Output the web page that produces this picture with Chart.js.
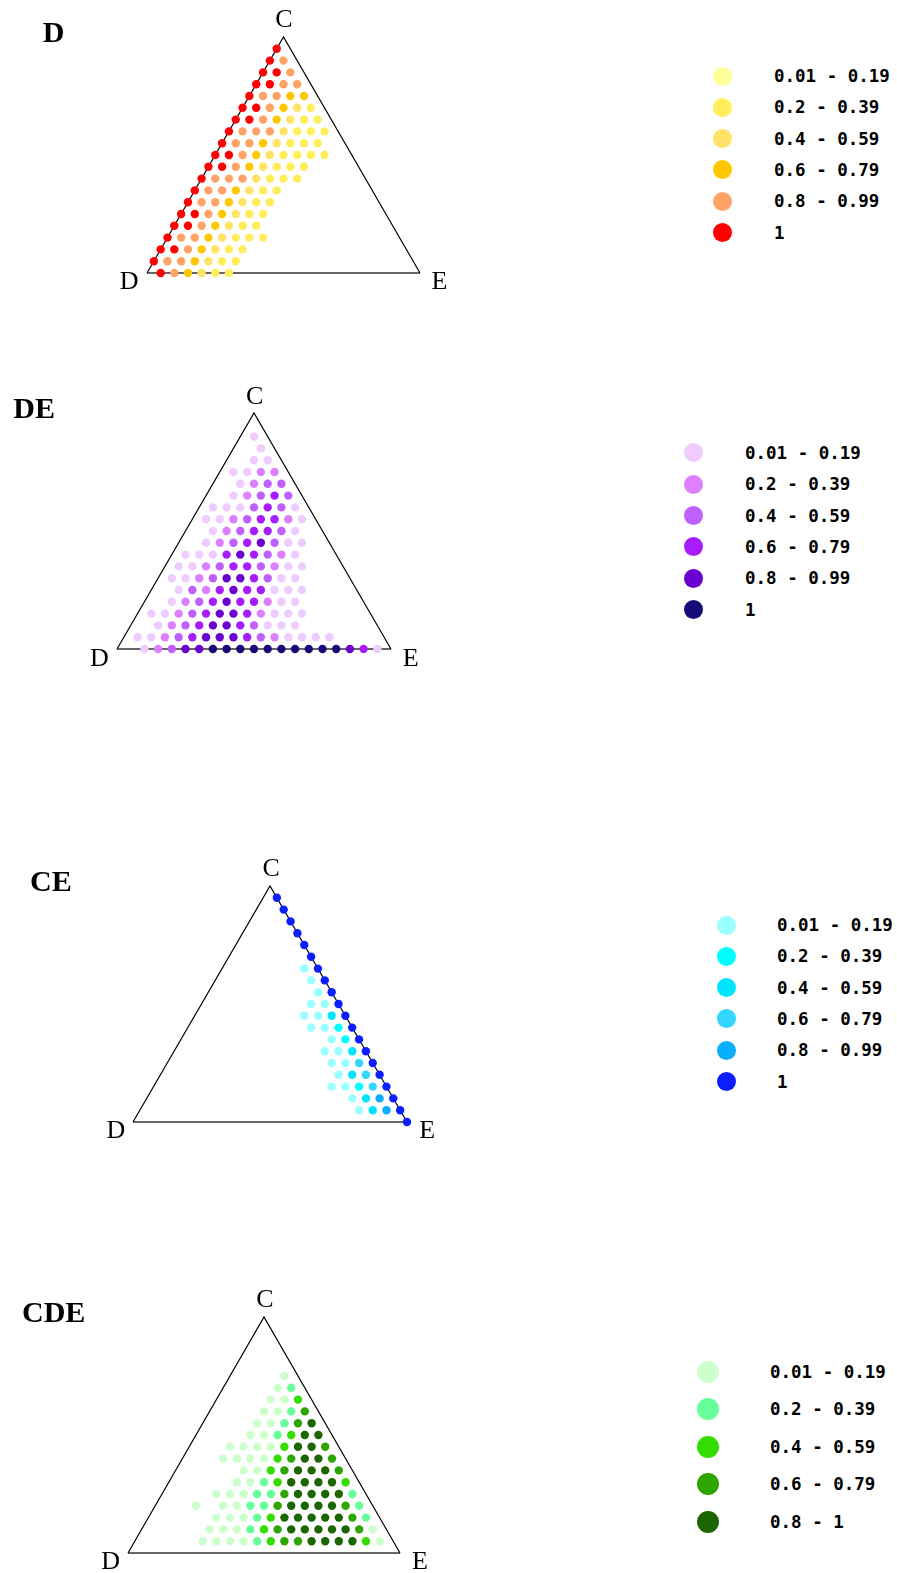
<!DOCTYPE html>
<html>
<head>
<meta charset="utf-8">
<script src="https://cdn.jsdelivr.net/npm/chart.js@4.4.1/dist/chart.umd.min.js"></script>
<style>
  body { margin: 0; background: #fff; }
  #page { position: relative; width: 897px; height: 1573px; overflow: hidden; background: #fff; }
  canvas { position: absolute; }
  .title { position: absolute; font: bold 30px "Liberation Serif", "Times New Roman", serif; line-height: 30px; color: #000; white-space: nowrap; }
  .vlabel { position: absolute; font: 26px "Liberation Serif", "Times New Roman", serif; line-height: 26px; color: #000; white-space: nowrap; }
  .mark { position: absolute; border-radius: 50%; }
  .ltext { position: absolute; font: bold 17.5px "DejaVu Sans Mono", monospace; line-height: 17px; color: #000; white-space: pre; transform: translateY(-50%); }
</style>
</head>
<body>
<div id="page"></div>
<script>
// grid has 20 steps per side; rows listed top (row 19) to bottom (row 0)
// each char is one grid column from the left edge: "." = no dot, digit = class
const N = 20;

const labels6 = ["0.01 - 0.19", "0.2 - 0.39", "0.4 - 0.59", "0.6 - 0.79", "0.8 - 0.99", "1"];
const labels5 = ["0.01 - 0.19", "0.2 - 0.39", "0.4 - 0.59", "0.6 - 0.79", "0.8 - 1"];

const dColors = ["#FFFF99", "#FFEE5A", "#FFE366", "#FFC800", "#FFA366", "#FF0000"];
const deColors = ["#EECCFF", "#DD80FF", "#BF5FFF", "#A61CFF", "#6A00D0", "#170A78"];
const ceColors = ["#99FFFF", "#00FFFF", "#00E5FF", "#33D6FF", "#0AAEFF", "#0A1EFF"];
const cdeColors = ["#CCFFCC", "#66FF99", "#33DD00", "#2EA500", "#1C6600"];

const dRows = [
  "6.",
  "65.",
  "665.",
  "6655.",
  "65544.",
  "665432.",
  "6654322.",
  "65553222.",
  "65543222..",
  "665432222..",
  "66543222....",
  "65553222.....",
  "6554322.......",
  "6554322........",
  "6654322.........",
  "6654322..........",
  "65543222..........",
  "6654322............",
  "6554322.............",
  ".654322.............."
];

const deRows = [
  "..",
  ".1.",
  "..1.",
  "..11.",
  ".1122.",
  "..1233.",
  "..12343.",
  ".1113431.",
  ".11234421.",
  "..1234431..",
  "..12345311..",
  ".111454321...",
  ".1123443211...",
  ".1123554311....",
  "..1324544111....",
  "..1234544211.....",
  ".112345542111.....",
  "..12345543111......",
  ".112345554321111....",
  "..123556666666666541."
];

const ceRows = [
  ".6",
  "..6",
  "...6",
  "....6",
  ".....6",
  "......6",
  "......16",
  ".......16",
  "........16",
  "........116",
  "........1136",
  ".........1126",
  "...........126",
  "...........1136",
  "............1146",
  ".............1346",
  ".............11246",
  "...............1356",
  "................1356",
  "....................6"
];

const cdeRows = [
  "..",
  "...",
  "....",
  ".....",
  "....1.",
  "....12.",
  "....113.",
  "....1124.",
  "....11245.",
  "....112355.",
  "...11113554.",
  "...111134554.",
  ".....11345554.",
  ".....112355553.",
  "....11122455552.",
  "...1.11224555542.",
  ".....111235555542.",
  ".....1112345555541.",
  ".....11112344555531.",
  "....................."
];

const panels = [
  { title: "D", rows: dRows, colors: dColors, labels: labels6,
    box: { x: 146.5, y: 37, w: 273, h: 236 }, titleAt: [42.7, 42.3],
    legend: { cx: 722.5, cy: 76, step: 31.3, tx: 774, size: 19 } },
  { title: "DE", rows: deRows, colors: deColors, labels: labels6,
    box: { x: 116.7, y: 413.3, w: 274, h: 236 }, titleAt: [13.3, 418.3],
    legend: { cx: 693.7, cy: 452.7, step: 31.4, tx: 745, size: 19 } },
  { title: "CE", rows: ceRows, colors: ceColors, labels: labels6,
    box: { x: 133.2, y: 885.7, w: 273.5, h: 236 }, titleAt: [30, 891],
    legend: { cx: 726, cy: 925, step: 31.3, tx: 777, size: 19 } },
  { title: "CDE", rows: cdeRows, colors: cdeColors, labels: labels5,
    box: { x: 128, y: 1317, w: 272, h: 236 }, titleAt: [22, 1322],
    legend: { cx: 708, cy: 1371.7, step: 37.5, tx: 770, size: 22 } }
];

const page = document.getElementById("page");
const pad = 30;

function pointsFor(rows, cat) {
  const pts = [];
  rows.forEach((s, i) => {
    const r = rows.length - 1 - i;
    [...s].forEach((ch, c) => {
      if (ch === String(cat)) pts.push({ x: c + r / 2, y: r });
    });
  });
  return pts;
}

function addText(cls, text, left, top, transform) {
  const el = document.createElement("div");
  el.className = cls;
  el.textContent = text;
  el.style.left = left + "px";
  el.style.top = top + "px";
  if (transform) el.style.transform = transform;
  page.appendChild(el);
  return el;
}

function drawPanel(p) {
  const box = p.box;
  const cv = document.createElement("canvas");
  cv.width = Math.round(box.w + 2 * pad);
  cv.height = Math.round(box.h + 2 * pad);
  cv.style.left = (box.x - pad) + "px";
  cv.style.top = (box.y - pad) + "px";
  page.appendChild(cv);

  const dotSets = p.colors.map((col, k) => ({
    label: p.labels[k],
    data: pointsFor(p.rows, k + 1),
    backgroundColor: col,
    borderColor: col,
    pointRadius: 4.2,
    pointBorderWidth: 0,
    pointHoverRadius: 4.2,
    clip: false,
    order: 0,
  }));

  const sides = {
    label: "sides",
    data: [{ x: 0, y: 0 }, { x: N / 2, y: N }, { x: N, y: 0 }],
    showLine: true,
    borderColor: "#000",
    borderWidth: 1.2,
    pointRadius: 0,
    clip: false,
    order: 5,
  };
  const base = {
    label: "base",
    data: [{ x: 0, y: 0 }, { x: N, y: 0 }],
    showLine: true,
    borderColor: "#666",
    borderWidth: 2,
    pointRadius: 0,
    clip: false,
    order: 5,
  };

  const chart = new Chart(cv, {
    type: "scatter",
    data: { datasets: [...dotSets, sides, base] },
    options: {
      responsive: false,
      animation: false,
      devicePixelRatio: 1,
      events: [],
      layout: { padding: pad },
      scales: {
        x: { type: "linear", min: 0, max: N, display: false },
        y: { type: "linear", min: 0, max: N, display: false },
      },
      plugins: { legend: { display: false }, tooltip: { enabled: false } },
    },
  });

  // corner labels placed from the chart's own scales
  const sx = (v) => box.x - pad + chart.scales.x.getPixelForValue(v);
  const sy = (v) => box.y - pad + chart.scales.y.getPixelForValue(v);
  addText("vlabel", "D", sx(0) - 8, sy(0) + 17 - 21.8, "translateX(-100%)");
  addText("vlabel", "E", sx(N) + 12, sy(0) + 17 - 21.8);
  addText("vlabel", "C", sx(N / 2) + 1, sy(N) - 9 - 21.8, "translateX(-50%)");

  addText("title", p.title, p.titleAt[0], p.titleAt[1] - 25.1);

  const lg = p.legend;
  p.labels.forEach((lab, k) => {
    const cy = lg.cy + k * lg.step;
    const m = document.createElement("div");
    m.className = "mark";
    m.style.width = lg.size + "px";
    m.style.height = lg.size + "px";
    m.style.left = (lg.cx - lg.size / 2) + "px";
    m.style.top = (cy - lg.size / 2) + "px";
    m.style.background = p.colors[k];
    page.appendChild(m);
    addText("ltext", lab, lg.tx, cy);
  });
}

panels.forEach(drawPanel);
</script>
</body>
</html>
